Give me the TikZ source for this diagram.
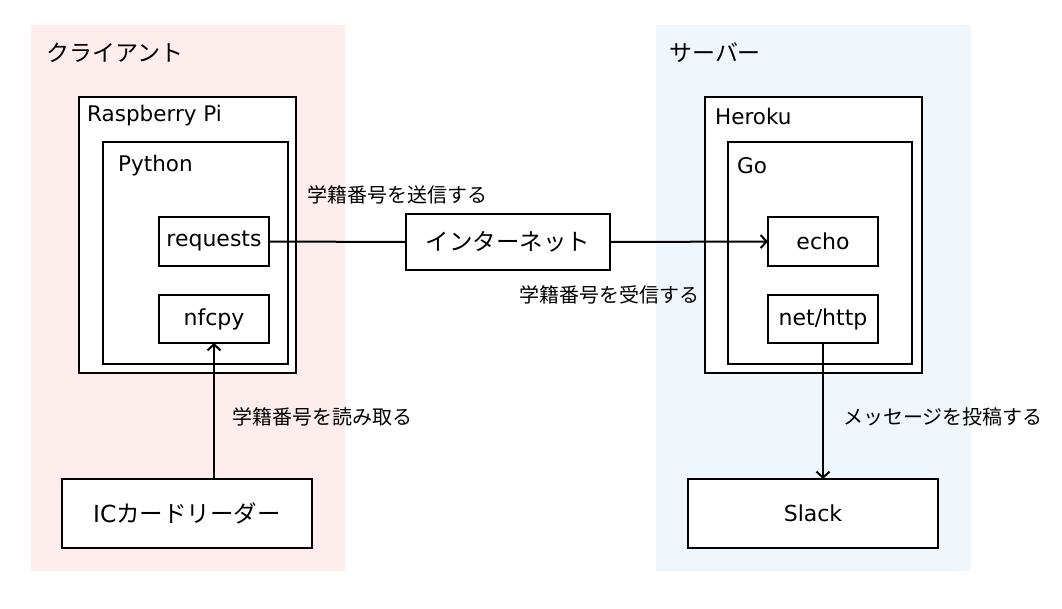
\documentclass[tikz,border=0pt]{standalone}
\usepackage{fontspec}
\setmainfont{DejaVu Sans}
\newfontfamily\jp{Noto Sans CJK JP}
\usetikzlibrary{arrows.meta}
\definecolor{pinkbg}{RGB}{253,237,237}
\definecolor{bluebg}{RGB}{239,247,253}
\begin{document}
\begin{tikzpicture}[x=1pt,y=-1pt,
  lw/.style={line width=2pt},
  box/.style={draw,lw,fill=white,outer sep=0pt,inner sep=0pt,font=\fontsize{22}{26}\selectfont},
  jpbox/.style={box,font=\fontsize{23.5}{28}\selectfont\jp},
  cont/.style={draw,lw,fill=white,outer sep=0pt,inner sep=0pt},
  ctitle/.style={anchor=west,inner sep=0pt,font=\fontsize{21.5}{26}\selectfont},
  region/.style={inner sep=0pt,outer sep=0pt},
  rtitle/.style={anchor=west,inner sep=0pt,font=\fontsize{23}{27}\selectfont\jp},
  lbl/.style={anchor=west,inner sep=0pt,font=\fontsize{20}{24}\selectfont\jp},
  conn/.style={lw},
  arr/.style={lw,-{Straight Barb[length=6pt,width=13pt,line width=2pt]}}
]
\useasboundingbox (0,0) rectangle (1062,608);
% regions
\node[region,fill=pinkbg,minimum width=314pt,minimum height=546pt] (client) at (188,298) {};
\node[region,fill=bluebg,minimum width=315pt,minimum height=546pt] (server) at (813.5,298) {};
\node[rtitle] (clientt) at (46,53) {クライアント};
\node[rtitle] (servert) at (669,53) {サーバー};
% containers
\node[cont,minimum width=217pt,minimum height=276pt] (rpi) at (187.5,235) {};
\node[ctitle] (rpit) at (87,116) {Raspberry Pi};
\node[cont,minimum width=185pt,minimum height=222pt] (py) at (195.5,253) {};
\node[ctitle] (pyt) at (118,166) {Python};
\node[cont,minimum width=217pt,minimum height=276pt] (heroku) at (813.5,235) {};
\node[ctitle] (herokut) at (715,116) {Heroku};
\node[cont,minimum width=184pt,minimum height=222pt] (go) at (820,253) {};
\node[ctitle] (got) at (737,166) {Go};
% boxes
\node[box,minimum width=110pt,minimum height=49pt] (req) at (214,241.5) {requests};
\node[box,minimum width=110pt,minimum height=48pt] (nfc) at (214,319) {nfcpy};
\node[box,minimum width=250pt,minimum height=69pt,font=\fontsize{23.5}{28}\selectfont] (ic) at (187,513.5) {IC{\jp カードリーダー}};
\node[jpbox,minimum width=204pt,minimum height=56pt] (inet) at (508,242) {インターネット};
\node[box,minimum width=110pt,minimum height=49pt] (echo) at (823,241.5) {echo};
\node[box,minimum width=110pt,minimum height=48pt] (http) at (823,319) {net/http};
\node[box,minimum width=250pt,minimum height=69pt] (slack) at (813,513.5) {Slack};
% connectors
\draw[conn] (req.east) -- (inet.west);
\draw[arr] (inet.east) -- (echo.west);
\draw[arr] (ic.north -| nfc.south) -- (nfc.south);
\draw[arr] (http.south) -- (slack.north -| http.south);
% labels
\node[lbl] (l1) at (307,195) {学籍番号を送信する};
\node[lbl] (l2) at (519,295) {学籍番号を受信する};
\node[lbl] (l3) at (232,417) {学籍番号を読み取る};
\node[lbl] (l4) at (843,417) {メッセージを投稿する};
\end{tikzpicture}
\end{document}
